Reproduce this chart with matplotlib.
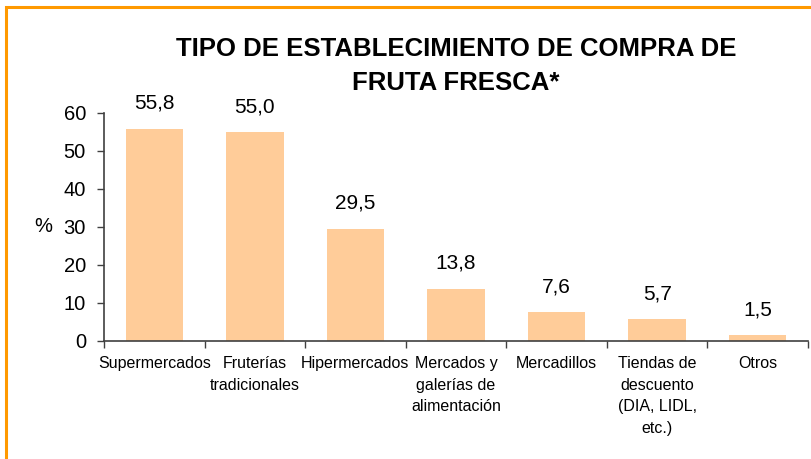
import matplotlib
matplotlib.use("Agg")
import matplotlib.pyplot as plt
from matplotlib.patches import Rectangle

categories = [
    "Supermercados",
    "Fruterías\ntradicionales",
    "Hipermercados",
    "Mercados y\ngalerías de\nalimentación",
    "Mercadillos",
    "Tiendas de\ndescuento\n(DIA, LIDL,\netc.)",
    "Otros",
]
values = [55.8, 55.0, 29.5, 13.8, 7.6, 5.7, 1.5]
y_ticks = [0, 10, 20, 30, 40, 50, 60]

bar_color = "#FFCC99"
axis_color = "#404040"
frame_color = "#FF9900"

plt.rcParams["font.family"] = ["Liberation Sans", "DejaVu Sans"]

W, H = 812, 459
fig = plt.figure(figsize=(W / 100, H / 100), dpi=100)

# axes box in pixel terms: x 104..808, y 113..341
left, right, top, bottom = 104, 808, 113, 341
ax = fig.add_axes([left / W, 1 - bottom / H, (right - left) / W, (bottom - top) / H])

x = list(range(len(categories)))
ax.bar(x, values, width=0.57, color=bar_color, zorder=2)

for xi, v in zip(x, values):
    ax.annotate(f"{v:.1f}".replace(".", ","), (xi, v), xytext=(0, 11.5),
                textcoords="offset points", ha="center", va="bottom",
                fontsize=15, color="black")

ax.set_xlim(-0.5, len(categories) - 0.5)
ax.set_ylim(0, 60)
ax.set_yticks(y_ticks)
ax.tick_params(axis="y", labelsize=14.5, length=5, width=1, color=axis_color, pad=8)

ax.set_xticks(x)
ax.set_xticklabels(categories, fontsize=11.5, linespacing=1.55)
ax.set_xticks([i - 0.5 for i in range(len(categories) + 1)], minor=True)
ax.tick_params(axis="x", which="major", length=0, pad=11)
ax.tick_params(axis="x", which="minor", length=5, width=1, color=axis_color)

for side in ["top", "right"]:
    ax.spines[side].set_visible(False)
for side in ["left", "bottom"]:
    ax.spines[side].set_color(axis_color)
    ax.spines[side].set_linewidth(1.2)

ax.set_ylabel("%", rotation=0, fontsize=14.5, ha="center", va="center")
ax.yaxis.set_label_coords((43 - left) / (right - left), (bottom - 227) / (bottom - top))

fig.text(456 / W, 1 - 56 / H, "TIPO DE ESTABLECIMIENTO DE COMPRA DE",
         ha="center", va="baseline", fontsize=18.5, fontweight="bold")
fig.text(456 / W, 1 - 90 / H, "FRUTA FRESCA*",
         ha="center", va="baseline", fontsize=18.5, fontweight="bold")

# orange frame, only left and top edges visible in the crop
fig.patches.append(Rectangle((6 / W, -0.5), 2, 0.5 + (1 - 7 / H),
                             transform=fig.transFigure, fill=False,
                             edgecolor=frame_color, linewidth=2.2))

fig.savefig("out.png", dpi=100, facecolor="white")
